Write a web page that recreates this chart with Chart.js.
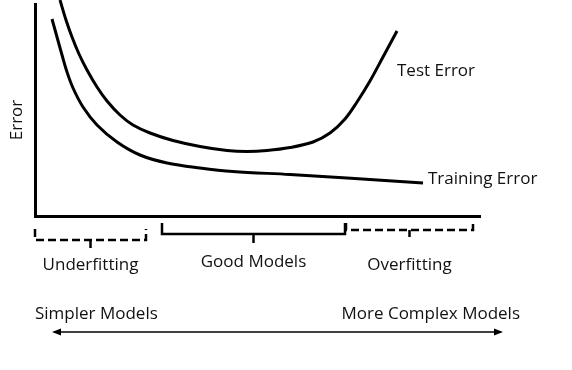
<!DOCTYPE html>
<html>
<head>
<meta charset="utf-8">
<script src="https://cdn.jsdelivr.net/npm/chart.js@4.4.1/dist/chart.umd.min.js"></script>
<style>
  html, body { margin: 0; padding: 0; background: #fff; }
  #wrap { width: 572px; height: 370px; position: relative; }
</style>
</head>
<body>
<div id="wrap"><canvas id="c" width="572" height="370"></canvas></div>
<script>
// Model complexity (x) and error (y), read from the schematic
const testX   = [25, 31, 37, 44, 52, 62, 72, 85, 98, 115, 138, 165, 192, 212, 232, 255, 278, 295, 310, 322, 335, 348, 362];
const testY   = [216, 196, 179, 162, 146, 129, 115, 101, 91, 83, 75.5, 69.5, 65.5, 64.5, 65.5, 68.5, 74, 83, 97, 114, 135, 159, 185];
const trainX  = [17, 22, 27, 32, 38, 48, 62, 82, 105, 132, 165, 198, 255, 312, 388];
const trainY  = [197, 179, 161, 144, 128, 109, 91, 74, 61, 53, 48, 44.5, 41.5, 38, 33];

const seriesLabels = ['Test Error', 'Training Error'];
const yAxisTitle = 'Error';

// Regions along the complexity axis (bracket start, end)
const regionNames = ['Underfitting', 'Good Models', 'Overfitting'];
const regionStart = [0, 127, 311];
const regionEnd   = [111, 310, 438];
const regionDashed = [true, false, true];

const arrowLabels = ['Simpler Models', 'More Complex Models'];
const arrowRange = [17, 468];

const FONT = '17px "Open Sans"';

const annot = {
  id: 'annot',
  afterDatasetsDraw(chart) {
    const ctx = chart.ctx;
    const xs = chart.scales.x, ys = chart.scales.y;
    ctx.save();
    ctx.fillStyle = '#111';
    ctx.font = FONT;

    // Y axis title
    ctx.save();
    ctx.translate(22, 120);
    ctx.rotate(-Math.PI / 2);
    ctx.textAlign = 'center';
    ctx.textBaseline = 'alphabetic';
    ctx.fillText(yAxisTitle, 0, 0);
    ctx.restore();

    // series labels near line ends
    ctx.textAlign = 'left';
    ctx.textBaseline = 'alphabetic';
    const tLast = testX.length - 1;
    ctx.fillText(seriesLabels[0], xs.getPixelForValue(testX[tLast]), ys.getPixelForValue(testY[tLast]) + 45);
    const rLast = trainX.length - 1;
    ctx.fillText(seriesLabels[1], xs.getPixelForValue(trainX[rLast]) + 5, ys.getPixelForValue(trainY[rLast]) + 1);

    // brackets
    const bracketGeom = [
      {top: 229, mid: 240, tip: 248, base: 270},
      {top: 223, mid: 234, tip: 243, base: 267},
      {top: 223, mid: 230, tip: 237, base: 270}
    ];
    ctx.strokeStyle = '#000';
    ctx.lineWidth = 2.5;
    regionNames.forEach((name, i) => {
      const g = bracketGeom[i];
      const x0 = xs.getPixelForValue(regionStart[i]);
      const x1 = xs.getPixelForValue(regionEnd[i]);
      const xc = (x0 + x1) / 2;
      ctx.setLineDash(regionDashed[i] ? [8, 4] : []);
      ctx.beginPath();
      ctx.moveTo(x0, g.top);
      ctx.lineTo(x0, g.mid);
      ctx.lineTo(x1, g.mid);
      ctx.lineTo(x1, g.top);
      ctx.stroke();
      ctx.setLineDash([]);
      ctx.beginPath();
      ctx.moveTo(xc, g.mid);
      ctx.lineTo(xc, g.tip);
      ctx.stroke();
      ctx.textAlign = 'center';
      ctx.fillText(name, xc, g.base);
    });

    // arrow labels
    ctx.textAlign = 'left';
    ctx.fillText(arrowLabels[0], xs.getPixelForValue(0), 319);
    ctx.textAlign = 'right';
    ctx.fillText(arrowLabels[1], 520, 319);

    // double-headed arrow
    const ax0 = xs.getPixelForValue(arrowRange[0]);
    const ax1 = xs.getPixelForValue(arrowRange[1]);
    const ay = 332;
    ctx.lineWidth = 1.6;
    ctx.beginPath();
    ctx.moveTo(ax0 + 2, ay);
    ctx.lineTo(ax1 - 2, ay);
    ctx.stroke();
    ctx.fillStyle = '#000';
    ctx.beginPath();
    ctx.moveTo(ax0, ay); ctx.lineTo(ax0 + 9, ay - 3.5); ctx.lineTo(ax0 + 9, ay + 3.5); ctx.closePath();
    ctx.fill();
    ctx.beginPath();
    ctx.moveTo(ax1, ay); ctx.lineTo(ax1 - 9, ay - 3.5); ctx.lineTo(ax1 - 9, ay + 3.5); ctx.closePath();
    ctx.fill();
    ctx.restore();
  }
};

const toPts = (xs, ys) => xs.map((x, i) => ({x, y: ys[i]}));

new Chart(document.getElementById('c'), {
  type: 'line',
  data: {
    datasets: [
      { label: seriesLabels[0], data: toPts(testX, testY) },
      { label: seriesLabels[1], data: toPts(trainX, trainY) }
    ]
  },
  options: {
    responsive: false,
    animation: false,
    events: [],
    layout: { padding: { left: 35, right: 92, top: 4, bottom: 154 } },
    elements: {
      line: { borderColor: '#000', borderWidth: 3, tension: 0.35, fill: false, borderCapStyle: 'butt', borderJoinStyle: 'round' },
      point: { radius: 0 }
    },
    datasets: { line: { clip: false } },
    plugins: { legend: { display: false }, tooltip: { enabled: false } },
    scales: {
      x: {
        type: 'linear', min: 0, max: 445,
        grid: { display: false, drawTicks: false },
        ticks: { display: false },
        border: { display: true, color: '#000', width: 3 },
        afterFit(s) { s.height = 0; }
      },
      y: {
        type: 'linear', min: 0, max: 212,
        grid: { display: false, drawTicks: false },
        ticks: { display: false },
        border: { display: true, color: '#000', width: 3 },
        afterFit(s) { s.width = 0; }
      }
    }
  },
  plugins: [annot]
});
</script>
</body>
</html>
